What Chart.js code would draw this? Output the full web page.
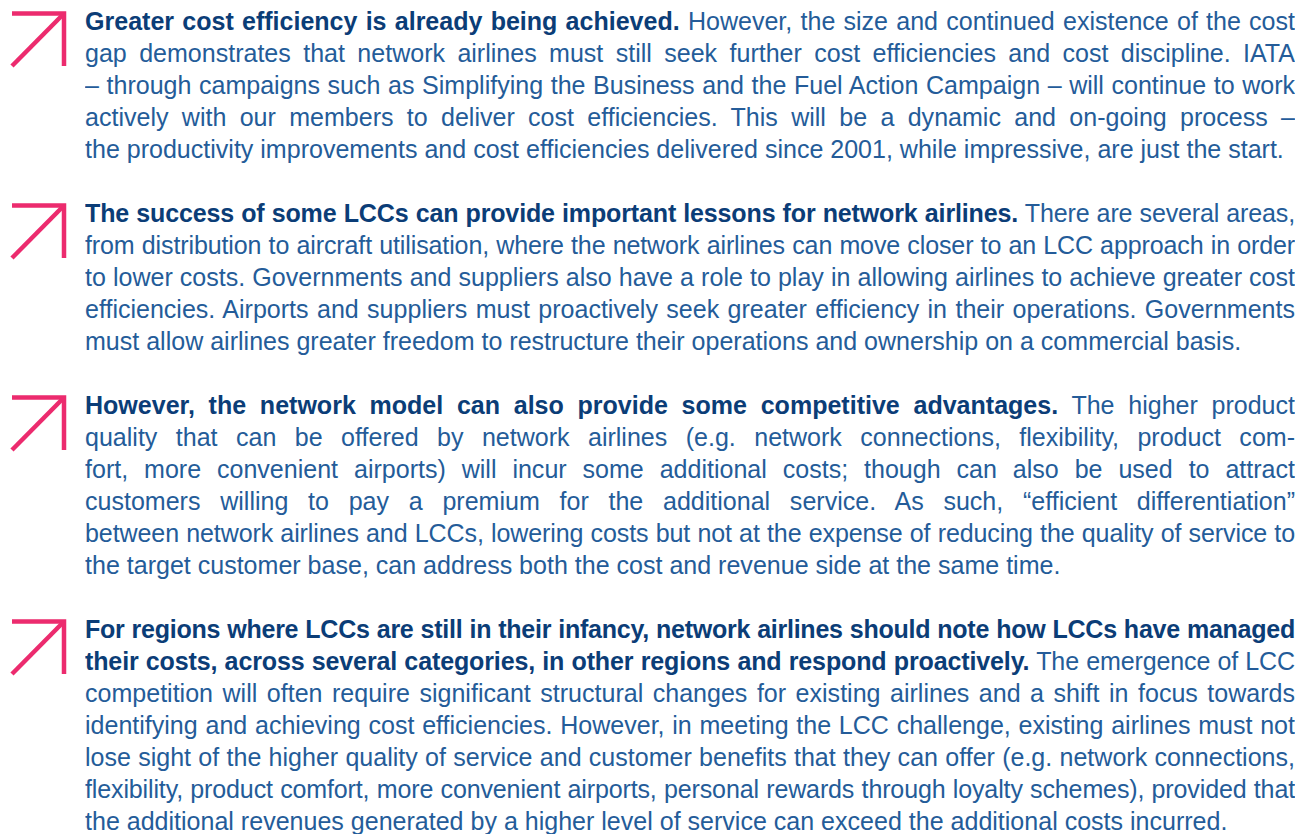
<!DOCTYPE html>
<html>
<head>
<meta charset="utf-8">
<script src="https://cdn.jsdelivr.net/npm/chart.js@4.4.0/dist/chart.umd.min.js"></script>
<style>
  html, body { margin: 0; padding: 0; background: #fff; }
  body { width: 1311px; height: 834px; overflow: hidden; position: relative; font-family: "Liberation Sans", Arial, sans-serif; }
  .para { position: absolute; left: 85px; width: 1210px; }
  .line { height: 32px; line-height: 32px; text-align: justify; text-align-last: justify; color: #245c99; overflow: hidden; }
  .line.last { text-align-last: left; }
  .line b { color: #0b3d77; font-weight: bold; }
  .arrow { position: absolute; left: 0; }
</style>
</head>
<body>
<script>
// each line: [bold lead, regular text]
const PARA_1 = [
  ["Greater cost efficiency is already being achieved.", " However, the size and continued existence of the cost"],
  ["", "gap demonstrates that network airlines must still seek further cost efficiencies and cost discipline. IATA"],
  ["", "– through campaigns such as Simplifying the Business and the Fuel Action Campaign – will continue to work"],
  ["", "actively with our members to deliver cost efficiencies. This will be a dynamic and on-going process –"],
  ["", "the productivity improvements and cost efficiencies delivered since 2001, while impressive, are just the start."],
];
const PARA_2 = [
  ["The success of some LCCs can provide important lessons for network airlines.", " There are several areas,"],
  ["", "from distribution to aircraft utilisation, where the network airlines can move closer to an LCC approach in order"],
  ["", "to lower costs. Governments and suppliers also have a role to play in allowing airlines to achieve greater cost"],
  ["", "efficiencies. Airports and suppliers must proactively seek greater efficiency in their operations. Governments"],
  ["", "must allow airlines greater freedom to restructure their operations and ownership on a commercial basis."],
];
const PARA_3 = [
  ["However, the network model can also provide some competitive advantages.", " The higher product"],
  ["", "quality that can be offered by network airlines (e.g. network connections, flexibility, product com-"],
  ["", "fort, more convenient airports) will incur some additional costs; though can also be used to attract"],
  ["", "customers willing to pay a premium for the additional service. As such, “efficient differentiation”"],
  ["", "between network airlines and LCCs, lowering costs but not at the expense of reducing the quality of service to"],
  ["", "the target customer base, can address both the cost and revenue side at the same time."],
];
const PARA_4 = [
  ["For regions where LCCs are still in their infancy, network airlines should note how LCCs have managed", ""],
  ["their costs, across several categories, in other regions and respond proactively.", " The emergence of LCC"],
  ["", "competition will often require significant structural changes for existing airlines and a shift in focus towards"],
  ["", "identifying and achieving cost efficiencies. However, in meeting the LCC challenge, existing airlines must not"],
  ["", "lose sight of the higher quality of service and customer benefits that they can offer (e.g. network connections,"],
  ["", "flexibility, product comfort, more convenient airports, personal rewards through loyalty schemes), provided that"],
  ["", "the additional revenues generated by a higher level of service can exceed the additional costs incurred."],
];
const PARAGRAPHS = [PARA_1, PARA_2, PARA_3, PARA_4];

// arrow glyph: top bar, right bar, diagonal (unit square)
const ARROW_EDGE = [{ x: 0, y: 1 }, { x: 1, y: 1 }, { x: 1, y: 0 }];
const ARROW_DIAG = [{ x: 0, y: 0 }, { x: 1, y: 1 }];

const LINE_H = 32;
const TOP = 5;
const WIDTH = 1210;
const PINK = "#ec2b6e";

// fit font so the final line matches the reference width
const measure = document.createElement("canvas").getContext("2d");
measure.font = '22px "Liberation Sans"';
const natural = measure.measureText(PARA_4[PARA_4.length - 1][1]).width;
const fontSize = 22 * 1143 / natural;

// squeeze a line that is wider than the column so it stays on one row
function fitLine(ln) {
  ln.style.whiteSpace = "nowrap";
  ln.style.textAlignLast = "left";
  const span = document.createElement("span");
  while (ln.firstChild) span.appendChild(ln.firstChild);
  ln.appendChild(span);
  const w = span.getBoundingClientRect().width;
  if (w > WIDTH - 2) {
    const chars = span.textContent.length;
    ln.style.letterSpacing = (-(w - WIDTH + 6) / chars) + "px";
  }
  while (span.firstChild) ln.insertBefore(span.firstChild, span);
  span.remove();
  ln.style.whiteSpace = "";
  ln.style.textAlignLast = "";
}

let y = TOP;
PARAGRAPHS.forEach((lines) => {
  const div = document.createElement("div");
  div.className = "para";
  div.style.top = y + "px";
  div.style.fontSize = fontSize + "px";
  document.body.appendChild(div);
  lines.forEach(([lead, rest], i) => {
    const ln = document.createElement("div");
    ln.className = "line" + (i === lines.length - 1 ? " last" : "");
    if (lead) {
      const b = document.createElement("b");
      b.textContent = lead;
      ln.appendChild(b);
    }
    ln.appendChild(document.createTextNode(rest));
    div.appendChild(ln);
    fitLine(ln);
  });

  const cv = document.createElement("canvas");
  cv.className = "arrow";
  cv.width = 80;
  cv.height = 80;
  cv.style.top = y + "px";
  document.body.appendChild(cv);
  new Chart(cv, {
    type: "scatter",
    data: {
      datasets: [
        { data: ARROW_EDGE, showLine: true, borderColor: PINK, borderWidth: 4.5, pointRadius: 0, clip: false, borderJoinStyle: "miter" },
        { data: ARROW_DIAG, showLine: true, borderColor: PINK, borderWidth: 4.5, pointRadius: 0, clip: false },
      ],
    },
    options: {
      responsive: false,
      animation: false,
      layout: { padding: { left: 12, right: 16, top: 8.5, bottom: 19 } },
      plugins: { legend: { display: false }, tooltip: { enabled: false } },
      scales: {
        x: { display: false, min: 0, max: 1 },
        y: { display: false, min: 0, max: 1 },
      },
    },
  });

  y += (lines.length + 1) * LINE_H;
});
</script>
</body>
</html>
